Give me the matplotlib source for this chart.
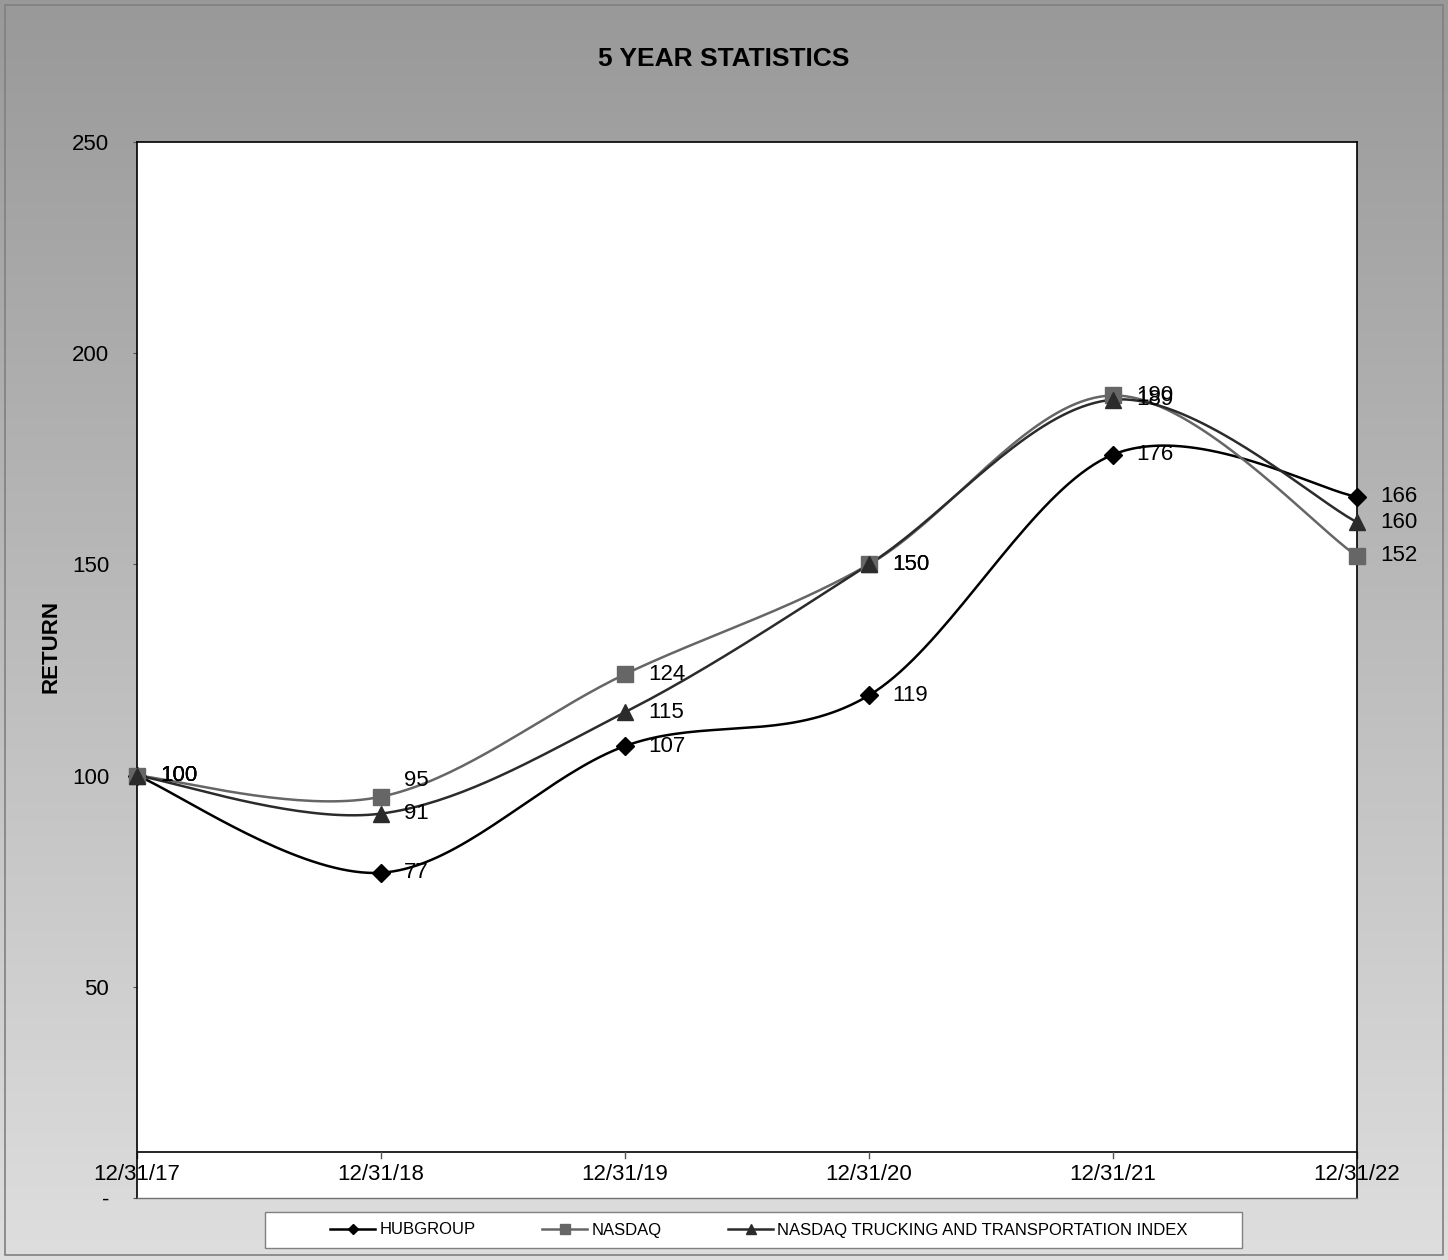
import matplotlib.pyplot as plt
import matplotlib.patches as mpatches
import numpy as np

plt.rcParams['font.family'] = ['Liberation Sans', 'DejaVu Sans']

dates = ['12/31/17', '12/31/18', '12/31/19', '12/31/20', '12/31/21', '12/31/22']
hubgroup = [100, 77, 107, 119, 176, 166]
nasdaq = [100, 95, 124, 150, 190, 152]
trucking = [100, 91, 115, 150, 189, 160]
series_names = ['HUBGROUP', 'NASDAQ', 'NASDAQ TRUCKING AND TRANSPORTATION INDEX']
yticks = [0, 50, 100, 150, 200, 250]


def smooth(y, n=40):
    # Excel-like smoothed line (Catmull-Rom bezier)
    x = np.arange(len(y), dtype=float)
    y = np.asarray(y, dtype=float)
    xs, ys = [], []
    for i in range(len(y) - 1):
        p0 = (x[max(i - 1, 0)], y[max(i - 1, 0)])
        p1 = (x[i], y[i])
        p2 = (x[i + 1], y[i + 1])
        p3 = (x[min(i + 2, len(y) - 1)], y[min(i + 2, len(y) - 1)])
        c1 = (p1[0] + (p2[0] - p0[0]) / 6, p1[1] + (p2[1] - p0[1]) / 6)
        c2 = (p2[0] - (p3[0] - p1[0]) / 6, p2[1] - (p3[1] - p1[1]) / 6)
        t = np.linspace(0, 1, n)
        bx = (1-t)**3*p1[0] + 3*(1-t)**2*t*c1[0] + 3*(1-t)*t**2*c2[0] + t**3*p2[0]
        by = (1-t)**3*p1[1] + 3*(1-t)**2*t*c1[1] + 3*(1-t)*t**2*c2[1] + t**3*p2[1]
        xs.extend(bx)
        ys.extend(by)
    return np.array(xs), np.array(ys)


fig = plt.figure(figsize=(14.48, 12.6), dpi=100)

# gray gradient background, darker on top
bg = fig.add_axes([0, 0, 1, 1], zorder=-10)
grad = np.linspace(153, 222, 256).reshape(-1, 1) / 255.0
bg.imshow(np.dstack([grad, grad, grad]), aspect='auto', extent=[0, 1, 0, 1])
bg.set_xlim(0, 1)
bg.set_ylim(0, 1)
bg.axis('off')
fig.patches.append(mpatches.Rectangle((5/1448, 5/1260), 1-10/1448, 1-10/1260,
                                      transform=fig.transFigure, fill=False,
                                      edgecolor='#808080', lw=1.2))

ax = fig.add_axes([137/1448, 1-1198/1260, 1220/1448, 1056/1260])
ax.set_facecolor('white')
ax.set_xlim(0, 5)
ax.set_ylim(0, 250)

styles = [
    dict(color='#000000', marker='D', ms=9),
    dict(color='#666666', marker='s', ms=11),
    dict(color='#2b2b2b', marker='^', ms=12),
]
handles = []
for vals, st, name in zip([hubgroup, nasdaq, trucking], styles, series_names):
    sx, sy = smooth(vals)
    ax.plot(sx, sy, color=st['color'], lw=1.8, zorder=3, clip_on=False)
    ax.plot(range(len(vals)), vals, ls='none', marker=st['marker'], ms=st['ms'],
            color=st['color'], zorder=4, clip_on=False)
    h, = ax.plot([], [], color=st['color'], lw=1.8, marker=st['marker'], ms=st['ms'] * 0.6)
    handles.append(h)
    for i, v in enumerate(vals):
        dy = 0
        if name == 'NASDAQ' and i == 1:
            dy = 16
        ax.annotate(str(v), (i, v), xytext=(23, dy), textcoords='offset pixels',
                    ha='left', va='center', fontsize=16, zorder=5, annotation_clip=False)

# category axis crosses near 11
axis_y = 11
ax.axhline(axis_y, color='black', lw=1.2, zorder=2)
for i, d in enumerate(dates):
    ax.plot([i, i], [axis_y, axis_y - 1.5], color='#555555', lw=1, zorder=2, clip_on=False)
    ax.annotate(d, (i, axis_y), xytext=(0, -23), textcoords='offset pixels',
                ha='center', va='center', fontsize=16, annotation_clip=False)
ax.set_xticks([])

ax.set_yticks(yticks)
ax.set_yticklabels(['-' if t == 0 else str(t) for t in yticks])
ax.tick_params(axis='y', direction='out', length=3, width=0.8, pad=17, labelsize=16,
               color='#555555')
for side in ['top', 'left', 'right']:
    ax.spines[side].set_color('black')
    ax.spines[side].set_linewidth(1.2)
ax.spines['bottom'].set_color('#707070')
ax.spines['bottom'].set_linewidth(1)

ax.set_ylabel('RETURN', fontsize=16, fontweight='bold')
ax.yaxis.set_label_coords(-0.0615, 0.5218)
fig.text(0.5, 1-59/1260, '5 YEAR STATISTICS', ha='center', va='center',
         fontsize=19, fontweight='bold')

# legend box
fig.patches.append(mpatches.Rectangle((265/1448, 1-1248/1260), 977/1448, 36/1260,
                                      transform=fig.transFigure, facecolor='white',
                                      edgecolor='#808080', lw=1))
fig.legend(handles, series_names, loc='center', bbox_to_anchor=(759/1448, 1-1230/1260),
           ncol=3, frameon=False, fontsize=12, handlelength=2.7, handletextpad=0.25,
           columnspacing=4.0)

plt.savefig('out.png', dpi=100)
